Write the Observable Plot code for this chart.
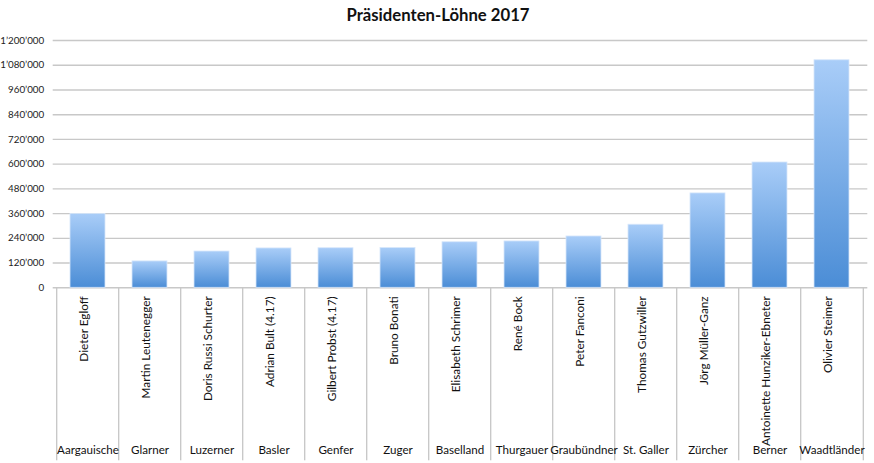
<!DOCTYPE html>
<html>
<head>
<meta charset="utf-8">
<script src="https://cdn.jsdelivr.net/npm/d3@7"></script>
<script src="https://cdn.jsdelivr.net/npm/@observablehq/plot@0.6"></script>
<style>
  html, body { margin: 0; padding: 0; background: #fff; }
  #title { height: 30px; line-height: 30px; text-align: center; font-family: Lato, "Open Sans", sans-serif; font-weight: bold; font-size: 16.7px; color: #111; padding-left: 2px; }
  #chart svg { display: block; }
</style>
</head>
<body>
<div id="title">Präsidenten-Löhne 2017</div>
<div id="chart"></div>
<script>
const cantons = ["Aargauische","Glarner","Luzerner","Basler","Genfer","Zuger","Baselland","Thurgauer","Graubündner","St. Galler","Zürcher","Berner","Waadtländer"];
const presidents = ["Dieter Egloff","Martin Leutenegger","Doris Russi Schurter","Adrian Bult (4.17)","Gilbert Probst (4.17)","Bruno Bonati","Elisabeth Schrimer","René Bock","Peter Fanconi","Thomas Gutzwiller","Jörg Müller-Ganz","Antoinette Hunziker-Ebneter","Olivier Steimer"];
const salaries = [358000,128000,176000,191000,192000,193000,221000,225000,249000,306000,458000,608000,1104000];
const yTicks = [0,120000,240000,360000,480000,600000,720000,840000,960000,1080000,1200000];

const data = presidents.map((p, i) => ({name: p, canton: cantons[i], value: salaries[i]}));

const W = 874, H = 433;
const mL = 52.7, mR = 6.7, mT = 10, mB = 175.7;
const step = (W - mL - mR) / presidents.length;
const frameH = H - mT - mB;

const fmt = d => d3.format(",")(d).replace(/,/g, "’");

function gradientDefs() {
  const ns = "http://www.w3.org/2000/svg";
  const defs = document.createElementNS(ns, "defs");
  const lg = document.createElementNS(ns, "linearGradient");
  lg.setAttribute("id", "barGrad");
  lg.setAttribute("x1", "0"); lg.setAttribute("y1", "0");
  lg.setAttribute("x2", "0"); lg.setAttribute("y2", "1");
  const s1 = document.createElementNS(ns, "stop");
  s1.setAttribute("offset", "0"); s1.setAttribute("stop-color", "#a9cdf8");
  const s2 = document.createElementNS(ns, "stop");
  s2.setAttribute("offset", "1"); s2.setAttribute("stop-color", "#4b8dd6");
  lg.appendChild(s1); lg.appendChild(s2);
  defs.appendChild(lg);
  return defs;
}

const chart = Plot.plot({
  width: W,
  height: H,
  marginLeft: mL,
  marginRight: mR,
  marginTop: mT,
  marginBottom: mB,
  style: {fontFamily: "Lato, 'Open Sans', sans-serif", background: "#fff", color: "#222"},
  x: {domain: presidents, paddingInner: 0.43, paddingOuter: 0.215, axis: null},
  y: {domain: [0, 1200000], ticks: yTicks, tickFormat: fmt, label: null},
  marks: [
    gradientDefs,
    Plot.gridY(yTicks, {stroke: "#c8c8c8", strokeOpacity: 1, strokeWidth: 1.4}),
    Plot.axisY(yTicks, {tickSize: 0, tickPadding: 9, tickFormat: fmt, fontSize: 9.8, label: null}),
    Plot.ruleX(presidents, {x: d => d, dx: -step / 2, stroke: "#c8c8c8", strokeWidth: 1.4, insetTop: frameH, insetBottom: -173}),
    Plot.ruleX([presidents[presidents.length - 1]], {x: d => d, dx: step / 2, stroke: "#c8c8c8", strokeWidth: 1.4, insetTop: frameH, insetBottom: -173}),
    Plot.barY(data, {x: "name", y: "value", fill: "url(#barGrad)", stroke: "#d6e6fb", strokeWidth: 0.8}),
    Plot.text(data, {x: "name", text: "name", rotate: -90, textAnchor: "end", frameAnchor: "bottom", dy: 8.5, fontSize: 11.8, fill: "#111"}),
    Plot.text(data, {x: "name", text: "canton", frameAnchor: "bottom", dy: 166, fontSize: 11.6, fill: "#111"})
  ]
});
document.getElementById("chart").appendChild(chart);
</script>
</body>
</html>
